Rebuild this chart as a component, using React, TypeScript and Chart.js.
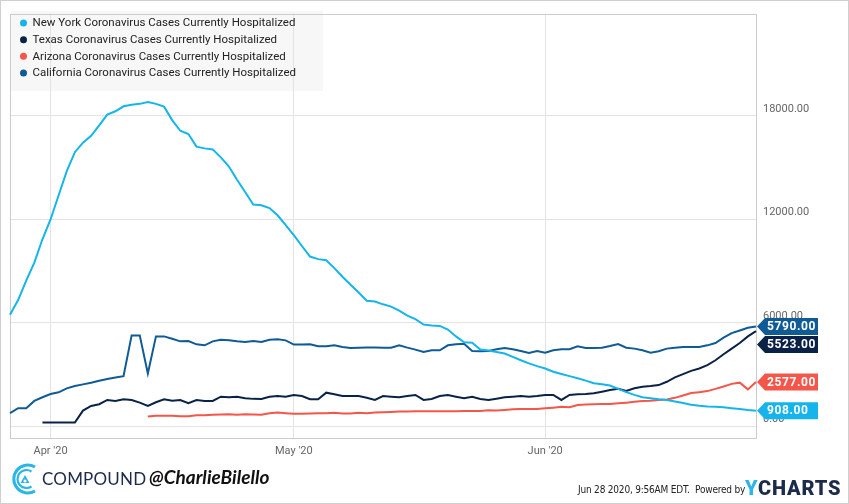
import React, { useEffect, useRef } from "react";
import { Chart, registerables } from "chart.js";

Chart.register(...registerables);

const dates = [
  "3/27", "3/28", "3/29", "3/30", "3/31",
  "4/1", "4/2", "4/3", "4/4", "4/5", "4/6", "4/7", "4/8", "4/9", "4/10",
  "4/11", "4/12", "4/13", "4/14", "4/15", "4/16", "4/17", "4/18", "4/19", "4/20",
  "4/21", "4/22", "4/23", "4/24", "4/25", "4/26", "4/27", "4/28", "4/29", "4/30",
  "5/1", "5/2", "5/3", "5/4", "5/5", "5/6", "5/7", "5/8", "5/9", "5/10",
  "5/11", "5/12", "5/13", "5/14", "5/15", "5/16", "5/17", "5/18", "5/19", "5/20",
  "5/21", "5/22", "5/23", "5/24", "5/25", "5/26", "5/27", "5/28", "5/29", "5/30", "5/31",
  "6/1", "6/2", "6/3", "6/4", "6/5", "6/6", "6/7", "6/8", "6/9", "6/10",
  "6/11", "6/12", "6/13", "6/14", "6/15", "6/16", "6/17", "6/18", "6/19", "6/20",
  "6/21", "6/22", "6/23", "6/24", "6/25", "6/26", "6/27",
];

const monthTickLabels: Record<string, string> = {
  "4/1": "Apr '20",
  "5/1": "May '20",
  "6/1": "Jun '20",
};

const yTickValues = [0, 6000, 12000, 18000];

const newYork = [
  6480, 7330, 8450, 9500, 10850,
  12000, 13400, 14800, 15900, 16450, 16850, 17450, 18080, 18270, 18560,
  18650, 18700, 18800, 18700, 18540, 17760, 17140, 16950, 16220, 16120,
  16060, 15600, 15070, 14300, 13590, 12860,
  12820, 12660, 12240, 11670,
  11090, 10460, 9850, 9700, 9640, 9180, 8680, 8220, 7770, 7290,
  7240, 7080, 6950, 6720, 6430, 6220, 5910, 5860, 5830, 5620,
  5220, 4880, 4860, 4460, 4410, 4320, 4230, 4030, 3840, 3660, 3500,
  3360, 3170, 3040, 2920, 2800, 2660, 2510, 2450, 2370, 2180,
  1990, 1830, 1700, 1640, 1580, 1540, 1450, 1360, 1260, 1200,
  1160, 1150, 1120, 1060, 1010, 950, 908,
];

const texas = [
  null, null, null, null, 230,
  230, 230, 230, 230, 921, 1192, 1290, 1537, 1480, 1577,
  1537, 1382, 1192, 1405, 1577, 1497, 1537, 1347, 1537, 1480,
  1480, 1727, 1690, 1727, 1635, 1600,
  1596, 1727, 1767, 1727,
  1825, 1767, 1577, 1577, 1958, 1863, 1767, 1767, 1767, 1670,
  1537, 1767, 1727, 1690, 1767, 1825, 1537, 1596, 1767, 1825,
  1727, 1635, 1727, 1596, 1537, 1610, 1690, 1727, 1767, 1727, 1767,
  1825, 1825, 1537, 1825, 1863, 1883, 1922, 2015, 2113, 2188,
  2055, 2211, 2303, 2340, 2400, 2591, 2844, 3034, 3224, 3362,
  3552, 3840, 4185, 4513, 4838, 5222, 5523,
];

const arizona = [
  null, null, null, null, null,
  null, null, null, null, null, null, null, null, null, null,
  null, null, 576, 616, 616, 616, 598, 598, 656, 656,
  674, 691, 714, 674, 714, 691,
  674, 771, 806, 771,
  731, 731, 750, 771, 771, 790, 750, 750, 790, 771,
  806, 826, 845, 864, 864, 883, 883, 883, 883, 883,
  883, 902, 902, 902, 940, 930, 960, 1000, 1020, 1020, 1020,
  1050, 1090, 1140, 1120, 1240, 1280, 1290, 1310, 1310, 1340,
  1380, 1430, 1475, 1495, 1530, 1570, 1660, 1800, 1940, 1990,
  2050, 2180, 2320, 2470, 2540, 2150, 2577,
];

const california = [
  771, 1059, 1059, 1480, 1692,
  1883, 1980, 2211, 2343, 2441, 2533, 2648, 2746, 2844, 2919,
  5279, 5279, 3074, 5222, 5222, 5089, 4934, 4953, 4761, 4703,
  4934, 5031, 4992, 4934, 4895, 4953,
  4895, 5031, 5050, 4992,
  4745, 4745, 4760, 4646, 4646, 4703, 4606, 4548, 4570, 4580,
  4580, 4570, 4570, 4703, 4570, 4456, 4318, 4416, 4416, 4703,
  4761, 4800, 4375, 4356, 4375, 4480, 4548, 4475, 4375, 4260, 4375,
  4280, 4416, 4475, 4475, 4646, 4548, 4548, 4568, 4665, 4780,
  4568, 4513, 4416, 4280, 4358, 4513, 4568, 4606, 4606, 4606,
  4703, 4838, 5146, 5412, 5567, 5722, 5790,
];

const seriesNames = [
  "New York Coronavirus Cases Currently Hospitalized",
  "Texas Coronavirus Cases Currently Hospitalized",
  "Arizona Coronavirus Cases Currently Hospitalized",
  "California Coronavirus Cases Currently Hospitalized",
];

const seriesColors = ["#15b5eb", "#0b2247", "#f5564a", "#0f5b96"];

const overlayPlugin = {
  id: "overlay",
  beforeDraw(chart: any) {
    const ctx = chart.ctx;
    ctx.save();
    ctx.fillStyle = "#f7f7f7";
    ctx.fillRect(11, 11, 312, 80);
    ctx.restore();
  },
  beforeDatasetsDraw(chart: any) {
    const { ctx, chartArea } = chart;
    ctx.save();
    ctx.strokeStyle = "#cccccc";
    ctx.lineWidth = 1;
    ctx.strokeRect(
      Math.round(chartArea.left) + 0.5,
      Math.round(chartArea.top) + 0.5,
      Math.round(chartArea.right - chartArea.left),
      Math.round(chartArea.bottom - chartArea.top)
    );
    ctx.restore();
  },
  afterDraw(chart: any) {
    const { ctx } = chart;
    ctx.save();
    // legend
    ctx.font = "11.5px Roboto";
    ctx.textBaseline = "middle";
    ctx.textAlign = "left";
    seriesNames.forEach((name, i) => {
      const y = 23 + i * 16.67;
      ctx.fillStyle = seriesColors[i];
      ctx.beginPath();
      ctx.arc(23.5, y, 3.5, 0, Math.PI * 2);
      ctx.fill();
      ctx.fillStyle = "#222222";
      ctx.fillText(name, 32.5, y + 0.5);
    });
    // end-value flags
    const yScale = chart.scales.y;
    const right = chart.chartArea.right;
    const flags = chart.data.datasets.map((ds: any, i: number) => {
      const data = ds.data;
      const v = data[data.length - 1];
      return { v, y: yScale.getPixelForValue(v), color: seriesColors[i] };
    });
    flags.sort((a: any, b: any) => a.y - b.y);
    for (let i = 1; i < flags.length; i++) {
      if (flags[i].y < flags[i - 1].y + 18) flags[i].y = flags[i - 1].y + 18;
    }
    ctx.font = "bold 12px Roboto";
    (ctx as any).letterSpacing = "0.6px";
    flags.forEach((f: any) => {
      const tip = right + 1;
      const h = 8.5;
      ctx.fillStyle = f.color;
      ctx.beginPath();
      ctx.moveTo(tip, f.y);
      ctx.lineTo(tip + 8, f.y - h);
      ctx.lineTo(tip + 61, f.y - h);
      ctx.lineTo(tip + 61, f.y + h);
      ctx.lineTo(tip + 8, f.y + h);
      ctx.closePath();
      ctx.fill();
      ctx.fillStyle = "#ffffff";
      ctx.fillText(f.v.toFixed(2), tip + 10, f.y + 0.5);
    });
    ctx.restore();
  },
};

export default function App() {
  const canvasRef = useRef<HTMLCanvasElement | null>(null);

  useEffect(() => {
    if (!canvasRef.current) return;
    Chart.defaults.font.family = "Roboto";
    const chart = new Chart(canvasRef.current, {
      type: "line",
      data: {
        labels: dates,
        datasets: [newYork, texas, arizona, california].map((d, i) => ({
          label: seriesNames[i],
          data: d,
          borderColor: seriesColors[i],
          backgroundColor: seriesColors[i],
          borderWidth: 2,
          pointRadius: 0,
          tension: 0,
          fill: false,
        })),
      },
      options: {
        responsive: false,
        animation: false,
        layout: { padding: { left: 10, top: 11, right: 0, bottom: 46 } },
        plugins: {
          legend: { display: false },
          tooltip: { enabled: false },
        },
        scales: {
          x: {
            type: "category",
            offset: false,
            afterFit: (s: any) => {
              s.height = 20;
            },
            border: { display: false },
            grid: { color: "#e3e3e3", drawTicks: false },
            ticks: {
              autoSkip: false,
              maxRotation: 0,
              minRotation: 0,
              padding: 7,
              color: "#666666",
              font: { size: 11 },
              callback: function (this: any, value: any) {
                const lbl = dates[value as number];
                return monthTickLabels[lbl] ?? null;
              },
            },
          },
          y: {
            position: "right",
            min: -668,
            max: 23932,
            afterFit: (s: any) => {
              s.width = 93;
            },
            afterBuildTicks: (s: any) => {
              s.ticks = yTickValues.map((v) => ({ value: v }));
            },
            border: { display: false },
            grid: { color: "#e3e3e3", drawTicks: false },
            ticks: {
              padding: 7,
              labelOffset: -7,
              color: "#666666",
              font: { size: 11 },
              callback: (v: any) => Number(v).toFixed(2),
            },
          },
        },
      },
      plugins: [overlayPlugin],
    });
    return () => chart.destroy();
  }, []);

  return (
    <div
      style={{
        position: "fixed",
        left: 0,
        top: 0,
        width: 849,
        height: 504,
        background: "#ffffff",
        overflow: "hidden",
      }}
    >
      <canvas
        ref={canvasRef}
        width={849}
        height={504}
        style={{ position: "absolute", left: 0, top: 0, display: "block" }}
      />
      <div
        style={{
          position: "absolute",
          inset: 0,
          border: "1px solid #cfcfcf",
          boxSizing: "border-box",
          pointerEvents: "none",
        }}
      />
      <svg
        width={34}
        height={36}
        viewBox="0 0 34 36"
        style={{ position: "absolute", left: 8, top: 461 }}
      >
        <path
          d="M 27 6 A 14 14 0 1 0 27 30"
          fill="none"
          stroke="#2bb5e8"
          strokeWidth={3}
        />
        <path
          d="M 23.5 10.5 A 9 9 0 1 0 23.5 25.5"
          fill="none"
          stroke="#2bb5e8"
          strokeWidth={2.2}
        />
        <path d="M 17 14 L 21.5 22 L 12.5 22 Z" fill="#2bb5e8" />
        <circle cx={17} cy={20} r={1.5} fill="#ffffff" />
      </svg>
      <div
        style={{
          position: "absolute",
          left: 42,
          top: 467,
          fontFamily: "Lato, 'Open Sans', sans-serif",
          fontSize: 17,
          color: "#1c2b4b",
          letterSpacing: 0.2,
          whiteSpace: "nowrap",
          lineHeight: "24px",
        }}
      >
        COMPOUND
      </div>
      <div
        style={{
          position: "absolute",
          left: 149,
          top: 465,
          fontFamily: "Lato, 'Open Sans', sans-serif",
          fontSize: 19,
          fontStyle: "italic",
          fontWeight: 700,
          color: "#111111",
          whiteSpace: "nowrap",
          lineHeight: "24px",
        }}
      >
        @CharlieBilello
      </div>
      <div
        style={{
          position: "absolute",
          left: 578,
          top: 483,
          fontFamily: "'Liberation Sans Narrow', 'DejaVu Sans Condensed', sans-serif",
          fontSize: 10,
          letterSpacing: -0.2,
          color: "#222222",
          whiteSpace: "nowrap",
          lineHeight: "14px",
        }}
      >
        Jun 28 2020, 9:56AM EDT.&nbsp; Powered by
      </div>
      <div
        style={{
          position: "absolute",
          left: 745,
          top: 476,
          fontFamily: "Roboto, sans-serif",
          fontSize: 20,
          fontWeight: 900,
          letterSpacing: 0.8,
          whiteSpace: "nowrap",
          lineHeight: "24px",
        }}
      >
        <span style={{ color: "#2bb5e8" }}>Y</span>
        <span style={{ color: "#1c2b4b" }}>CHARTS</span>
      </div>
    </div>
  );
}
